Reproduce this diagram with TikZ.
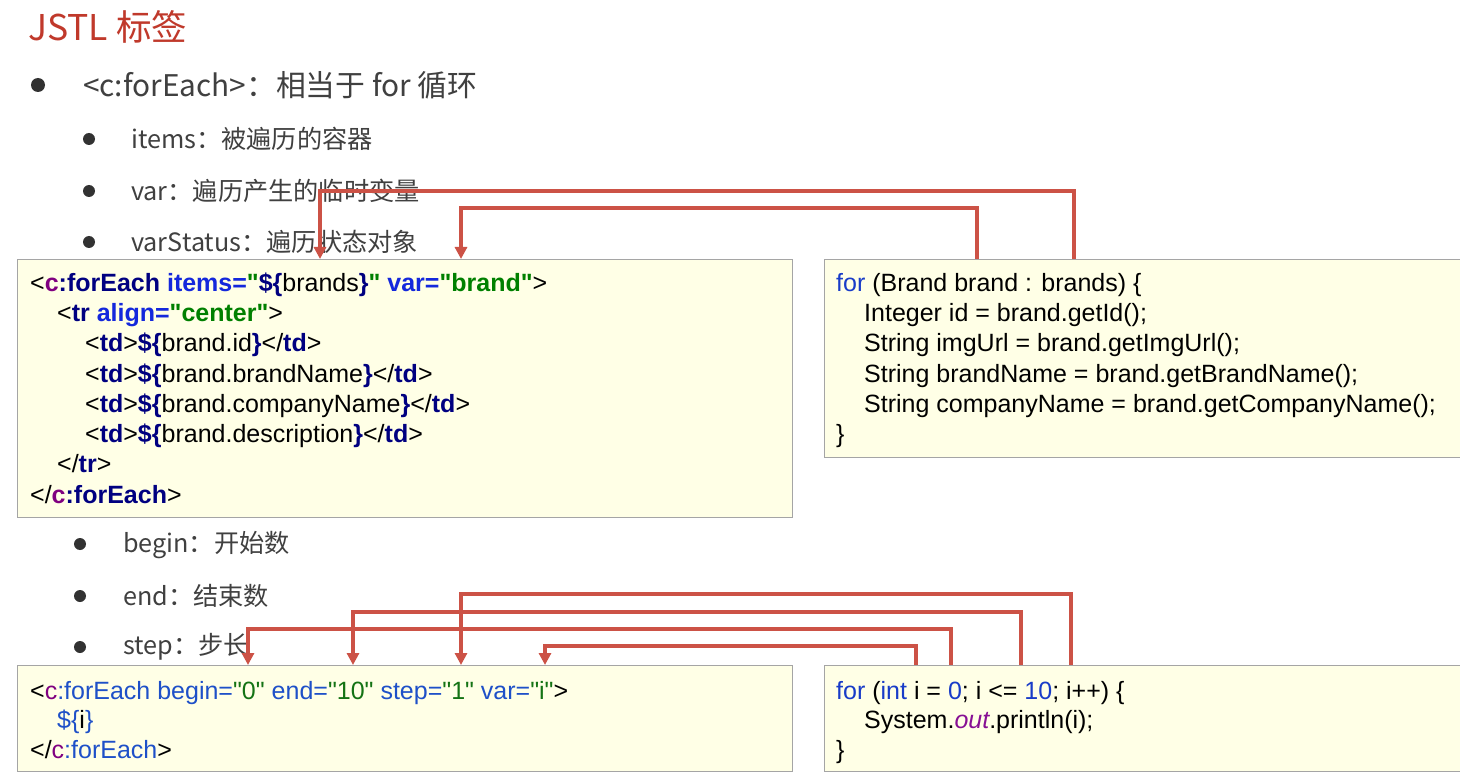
\documentclass[tikz,border=0pt]{standalone}
\usepackage{fontspec}
\setmainfont{Liberation Sans}
\newfontfamily\codefont{Liberation Sans}
\newfontfamily\cjk{Noto Sans CJK SC}
\usetikzlibrary{arrows.meta}
\definecolor{titlered}{RGB}{192,57,43}
\definecolor{textgray}{RGB}{64,64,64}
\definecolor{bulletgray}{RGB}{50,50,50}
\definecolor{boxfill}{RGB}{255,255,230}
\definecolor{boxgray}{RGB}{165,165,165}
\definecolor{arrowred}{RGB}{204,82,70}
\definecolor{jnavy}{RGB}{0,0,128}
\definecolor{jblue}{RGB}{20,40,220}
\definecolor{jgreen}{RGB}{0,128,0}
\definecolor{jpurple}{RGB}{128,0,128}
\definecolor{bblue}{RGB}{30,80,200}
\definecolor{bgreen}{RGB}{20,115,20}
\definecolor{kblue}{RGB}{25,60,200}
\definecolor{kpurple}{RGB}{135,16,148}
\newcommand\Jpur[1]{{\bfseries\color{jpurple}#1}}
\newcommand\Jnav[1]{{\bfseries\color{jnavy}#1}}
\newcommand\Jblu[1]{{\bfseries\color{jblue}#1}}
\newcommand\Jgrn[1]{{\bfseries\color{jgreen}#1}}
\newcommand\Bpur[1]{{\color{jpurple}#1}}
\newcommand\Bblu[1]{{\color{bblue}#1}}
\newcommand\Bgrn[1]{{\color{bgreen}#1}}
\newcommand\Kblu[1]{{\color{kblue}#1}}
\newcommand\Kpur[1]{{\itshape\color{kpurple}#1}}
\begin{document}
\begin{tikzpicture}[x=1pt,y=-1pt,
  codebox/.style={draw=boxgray, fill=boxfill, line width=1pt, inner sep=0, anchor=north west},
  codeline/.style={anchor=base west, inner sep=0, font=\codefont\fontsize{25}{30}\selectfont},
  bulA/.style={circle, fill=bulletgray, minimum size=14pt, inner sep=0},
  bulB/.style={circle, fill=bulletgray, minimum size=12pt, inner sep=0},
  txtA/.style={anchor=west, inner sep=0, text=textgray, font=\cjk\fontsize{29.8}{34}\selectfont},
  txtB/.style={anchor=west, inner sep=0, text=textgray, font=\cjk\fontsize{25.2}{30}\selectfont},
  conn/.style={draw=arrowred, line width=3.5pt, line join=miter, -{Triangle[width=12pt,length=12pt]}}
]
\useasboundingbox (0,0) rectangle (1460,778);
\fill[white] (0,0) rectangle (1460,778);

% title
\node[anchor=west, inner sep=0, text=titlered, font=\cjk\fontsize{35.5}{40}\selectfont] (title) at (28,27) {JSTL 标签};

% bullets
\node[bulA] (b0) at (38,85) {};
\node[txtA] (t0) at (83,85) {<c:forEach>：相当于 for 循环};
\node[bulB] (b1) at (89,139) {};
\node[txtB] (t1) at (131,139) {items：被遍历的容器};
\node[bulB] (b2) at (89,191) {};
\node[txtB] (t2) at (131,191) {var：遍历产生的临时变量};
\node[bulB] (b3) at (89,242) {};
\node[txtB] (t3) at (131,242) {varStatus：遍历状态对象};
\node[bulB] (b4) at (80,544) {};
\node[txtB] (t4) at (123,545) {begin：开始数};
\node[bulB] (b5) at (80,596) {};
\node[txtB] (t5) at (123,596) {end：结束数};
\node[bulB] (b6) at (80,647) {};
\node[txtB] (t6) at (123,647) {step：步长};

% boxes
\node[codebox, minimum width=775pt, minimum height=258pt] (jstlbox) at (17,259) {};
\node[codebox, minimum width=640pt, minimum height=198pt] (javabox) at (824,259) {};
\node[codebox, minimum width=775pt, minimum height=106pt] (jstlbox2) at (17,665) {};
\node[codebox, minimum width=640pt, minimum height=106pt] (javabox2) at (824,665) {};

% JSTL code (top)
\node[codeline] (j1) at (30,291) {<\Jpur{c}\Jnav{:forEach} \Jblu{items=}\Jgrn{"}\Jnav{\$\{}brands\Jnav{\}}\Jgrn{"} \Jblu{var=}\Jgrn{"brand"}>};
\node[codeline] (j2) at (57,321) {<\Jnav{tr} \Jblu{align=}\Jgrn{"center"}>};
\node[codeline] (j3) at (85,351) {<\Jnav{td}>\Jnav{\$\{}brand.id\Jnav{\}}</\Jnav{td}>};
\node[codeline] (j4) at (85,382) {<\Jnav{td}>\Jnav{\$\{}brand.brandName\Jnav{\}}</\Jnav{td}>};
\node[codeline] (j5) at (85,412) {<\Jnav{td}>\Jnav{\$\{}brand.companyName\Jnav{\}}</\Jnav{td}>};
\node[codeline] (j6) at (85,442) {<\Jnav{td}>\Jnav{\$\{}brand.description\Jnav{\}}</\Jnav{td}>};
\node[codeline] (j7) at (57,472) {</\Jnav{tr}>};
\node[codeline] (j8) at (30,503) {</\Jpur{c}\Jnav{:forEach}>};

% Java code (top)
\node[codeline] (k1) at (836,291) {\Kblu{for} (Brand brand : brands) \{};
\node[codeline] (k2) at (864,321) {Integer id = brand.getId();};
\node[codeline] (k3) at (864,351) {String imgUrl = brand.getImgUrl();};
\node[codeline] (k4) at (864,382) {String brandName = brand.getBrandName();};
\node[codeline] (k5) at (864,412) {String companyName = brand.getCompanyName();};
\node[codeline] (k6) at (836,442) {\}};

% JSTL code (bottom)
\node[codeline] (m1) at (30,699) {<\Bpur{c}\Bblu{:forEach} \Bblu{begin=}\Bgrn{"0"} \Bblu{end=}\Bgrn{"10"} \Bblu{step=}\Bgrn{"1"} \Bblu{var=}\Bgrn{"i"}>};
\node[codeline] (m2) at (57,728) {\Bblu{\$\{}i\Bblu{\}}};
\node[codeline] (m3) at (30,758) {</\Bpur{c}\Bblu{:forEach}>};

% Java code (bottom)
\node[codeline] (n1) at (836,699) {\Kblu{for} (\Kblu{int} i = \Kblu{0}; i <= \Kblu{10}; i++) \{};
\node[codeline] (n2) at (864,728) {System.\Kpur{out}.println(i);};
\node[codeline] (n3) at (836,758) {\}};

% connector end points
\coordinate (sBrands) at (1074,259);
\coordinate (tBrands) at (320,259);
\coordinate (sBrand) at (977,259);
\coordinate (tBrand) at (461,259);
\coordinate (sOne) at (1071,665);
\coordinate (tOne) at (461,665);
\coordinate (sTen) at (1021,665);
\coordinate (tTen) at (353,665);
\coordinate (sZero) at (951,665);
\coordinate (tZero) at (248,665);
\coordinate (sI) at (916,665);
\coordinate (tI) at (545,665);

% connectors
\draw[conn] (sBrands) -- ++(0,-68) -| (tBrands);
\draw[conn] (sBrand) -- ++(0,-51) -| (tBrand);
\draw[conn] (sOne) -- ++(0,-71) -| (tOne);
\draw[conn] (sTen) -- ++(0,-53) -| (tTen);
\draw[conn] (sZero) -- ++(0,-36) -| (tZero);
\draw[conn] (sI) -- ++(0,-19) -| (tI);
\end{tikzpicture}
\end{document}
